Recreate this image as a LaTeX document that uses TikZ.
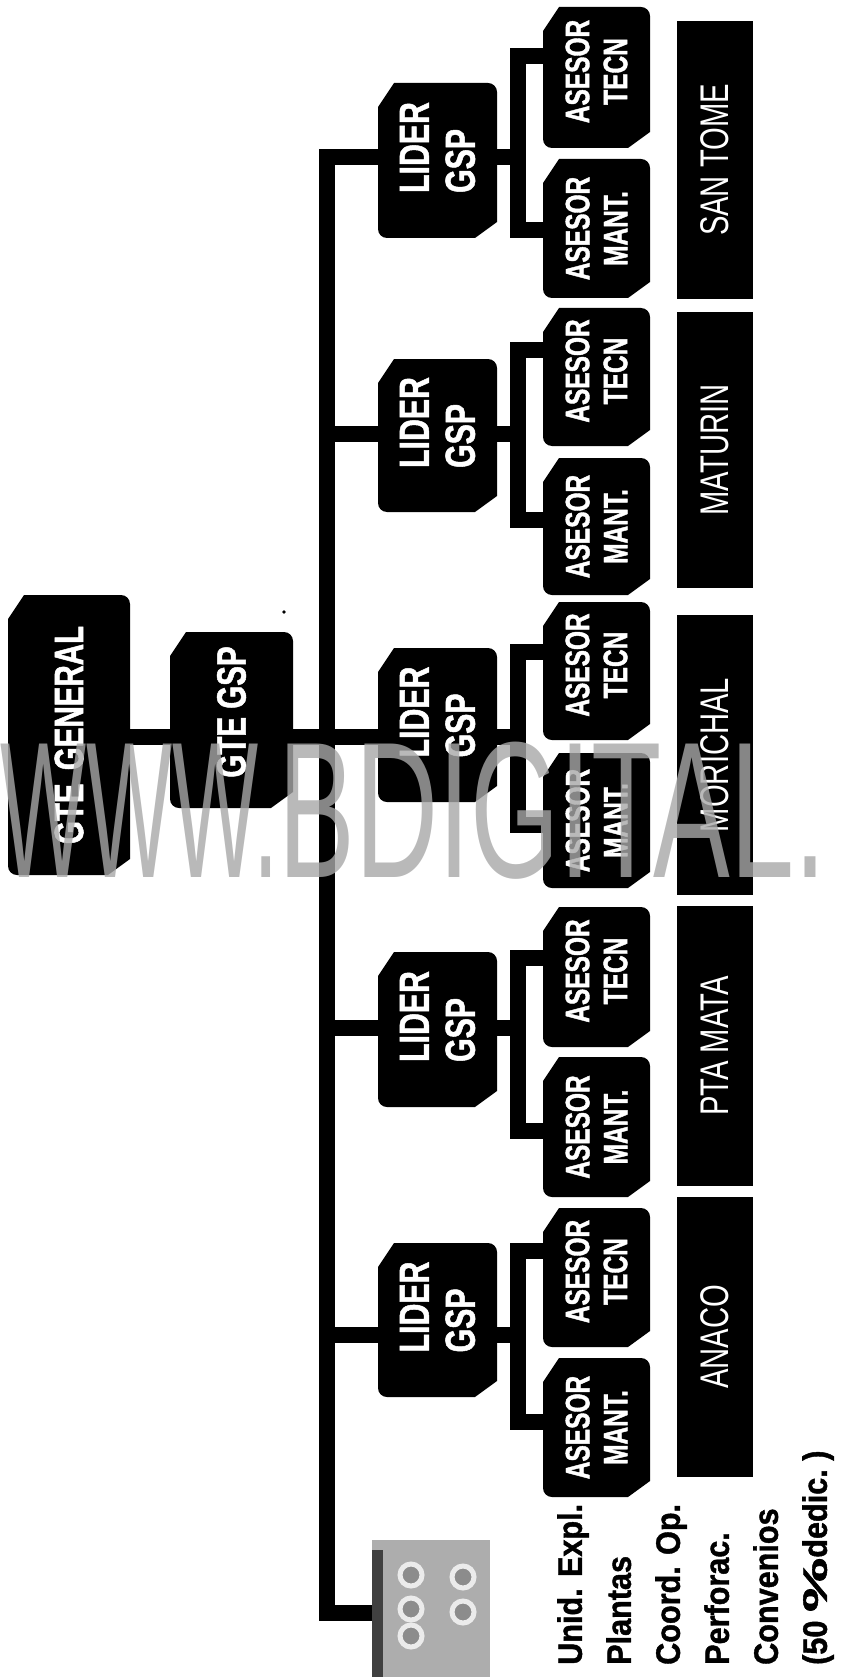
\documentclass[tikz,border=0pt]{standalone}
\usepackage{fontspec}
\usepackage{graphicx}
\usetikzlibrary{calc}
\newfontfamily\bxfont[FakeStretch=0.72,BoldFeatures={FakeBold=1.2}]{Liberation Sans}
\newfontfamily\locfamily[FakeStretch=0.73]{Liberation Sans}
\newfontfamily\ftfamily[FakeStretch=0.9,BoldFeatures={FakeBold=1.2}]{Liberation Sans}
\newfontfamily\wmfamily{Liberation Sans}
\newcommand\gtefont{\bxfont\bfseries\fontsize{41}{46}\selectfont}
\newcommand\lidfont{\bxfont\bfseries\fontsize{42}{46}\selectfont}
\newcommand\asfont{\bxfont\bfseries\fontsize{34}{38}\selectfont}
\newcommand\locfnt{\locfamily\fontsize{40}{44}\selectfont}
\newcommand\notefont{\ftfamily\bfseries\fontsize{34}{49}\selectfont}
\newcommand\wmfont{\wmfamily\fontsize{194}{200}\selectfont}
\definecolor{wmgray}{gray}{0.66}
\pgfdeclarelayer{bg}
\pgfdeclarelayer{fg}
\pgfsetlayers{bg,main,fg}
\tikzset{
  areanode/.style={inner sep=0pt, outer sep=0pt, draw=none},
  wlabel/.style={text=white, inner sep=0pt, rotate=90},
  conn/.style={line width=16pt, line join=miter, line cap=butt, draw=black},
}
% name, x1, y1, x2, y2 in pixel coordinates (y downwards)
\newcommand\mkarea[5]{%
  \node[areanode, minimum width={(#4-#2)*1pt}, minimum height={(#5-#3)*1pt}] (#1) at ({(#2+#4)/2},{-(#3+#5)/2}) {};}
\newcommand\chamferbox[1]{%
  \fill ($(#1.north west)+(0pt,-24pt)$) -- ($(#1.north west)+(16pt,0pt)$)
    -- ($(#1.north east)+(-9pt,0pt)$) arc[start angle=90,end angle=0,radius=9pt]
    -- ($(#1.south east)+(0pt,16pt)$) -- ($(#1.south east)+(-22pt,0pt)$)
    -- ($(#1.south west)+(9pt,0pt)$) arc[start angle=270,end angle=180,radius=9pt] -- cycle;}
\begin{document}
\begin{tikzpicture}[x=1pt,y=1pt]
\useasboundingbox (0,0) rectangle (847,-1677);
% ---- areas ----
\mkarea{gg}{8}{595}{130}{875}
\mkarea{gsp}{170}{632}{293}{808}
\mkarea{l1}{378}{83}{497}{238}   \mkarea{t1}{543}{7}{650}{148}    \mkarea{m1}{543}{159}{650}{298}   \mkarea{b1}{677}{21}{753}{299}
\mkarea{l2}{378}{359}{497}{512}  \mkarea{t2}{543}{308}{650}{446}  \mkarea{m2}{543}{458}{650}{595}   \mkarea{b2}{677}{312}{753}{588}
\mkarea{l3}{378}{648}{497}{802}  \mkarea{t3}{543}{602}{650}{740}  \mkarea{m3}{543}{753}{650}{888}   \mkarea{b3}{677}{615}{753}{895}
\mkarea{l4}{378}{952}{497}{1107} \mkarea{t4}{543}{907}{650}{1047} \mkarea{m4}{543}{1057}{650}{1197} \mkarea{b4}{677}{906}{753}{1186}
\mkarea{l5}{378}{1243}{497}{1397} \mkarea{t5}{543}{1208}{650}{1347} \mkarea{m5}{543}{1358}{650}{1497} \mkarea{b5}{677}{1197}{753}{1477}
\mkarea{gb}{372}{1540}{490}{1677}
% ---- junction coordinates ----
\coordinate (tk1) at (326.5,-157.5);
\coordinate (tk2) at (326.5,-434);
\coordinate (tk3) at (326.5,-737);
\coordinate (tk4) at (326.5,-1028);
\coordinate (tk5) at (326.5,-1335);
\coordinate (tk6) at (326.5,-1612.5);
\foreach \i/\cy/\ta/\tb in {1/157.5/56.5/230.5, 2/434/349.5/519.5, 3/737/651.5/824.5, 4/1028/957.5/1130.5, 5/1335/1250.5/1421.5}{
  \coordinate (bk\i) at (517.5,-\cy);
  \coordinate (st\i) at (517.5,-\ta);
  \coordinate (sb\i) at (517.5,-\tb);
}
% ---- labels ----
\node[wlabel, font=\gtefont] (gg-t) at (gg.center) {GTE\hspace{5pt} GENERAL};
\node[wlabel, font=\gtefont] (gsp-t) at ([yshift=8pt]gsp.center) {GTE GSP};
\foreach \i in {1,...,5}{
  \node[wlabel, font=\lidfont, align=left] (l\i-t) at ([yshift=13pt]l\i.center) {LIDER\\GSP};
  \node[wlabel, font=\asfont, align=center] (t\i-t) at ([yshift=6pt]t\i.center) {ASESOR\\TECN};
  \node[wlabel, font=\asfont, align=center] (m\i-t) at (m\i.center) {ASESOR\\MANT.};
}
\foreach \i/\n in {1/SAN TOME, 2/MATURIN, 3/MORICHAL, 4/PTA MATA, 5/ANACO}{
  \node[wlabel, font=\locfnt] (b\i-t) at (b\i.center) {\n};
}
\node[inner sep=0pt, rotate=90, anchor=north west, align=left, font=\notefont] (notes) at (557,-1665)
  {Unid. Expl.\\Plantas\\Coord. Op.\\Perforac.\\Convenios\\(50 \scalebox{2}[1]{\%}dedic.\ )};
% ---- shapes and connectors (background) ----
\begin{pgfonlayer}{bg}
  \foreach \n in {gg,gsp,l1,l2,l3,l4,l5,t1,t2,t3,t4,t5,m1,m2,m3,m4,m5}{\chamferbox{\n}}
  \foreach \i in {1,...,5}{\fill (b\i.north west) rectangle (b\i.south east);}
  % grey scanned box
  \fill[black!32] (gb.north west) rectangle (gb.south east);
  \fill[black!75] ($(gb.north west)+(0pt,-10pt)$) rectangle ($(gb.south west)+(11pt,0pt)$);
  \foreach \cx/\cy in {411/1575, 411/1609, 411/1636, 463/1577, 463/1612}{
    \draw[line width=5pt, draw=black!8, fill=black!45] (\cx,-\cy) ellipse[x radius=11pt, y radius=11pt];
  }
  % connectors
  \draw[conn] (gg.east |- tk3) -- (gsp.west |- tk3);
  \draw[conn] (gsp.east |- tk3) -- (tk3);
  \draw[conn] (l1.west |- tk1) -- (tk1) -- (tk6) -- (gb.west |- tk6);
  \foreach \i in {2,...,5}{\draw[conn] (tk\i) -- (l\i.west |- tk\i);}
  \foreach \i in {1,...,5}{
    \draw[conn] (l\i.east |- bk\i) -- (bk\i);
    \draw[conn] (t\i.west |- st\i) -- (st\i) -- (sb\i) -- (m\i.west |- sb\i);
  }
  \fill (284,-612) circle[radius=1.8pt];
\end{pgfonlayer}
% ---- watermark ----
\begin{pgfonlayer}{fg}
  \node[inner sep=0pt, anchor=base west, text=wmgray, text opacity=0.8, font=\wmfont] (wm) at (0,-877)
    {\scalebox{0.47}[1]{WWW.}\scalebox{0.593}[1]{BDIGITAL.}};
\end{pgfonlayer}
\end{tikzpicture}
\end{document}
